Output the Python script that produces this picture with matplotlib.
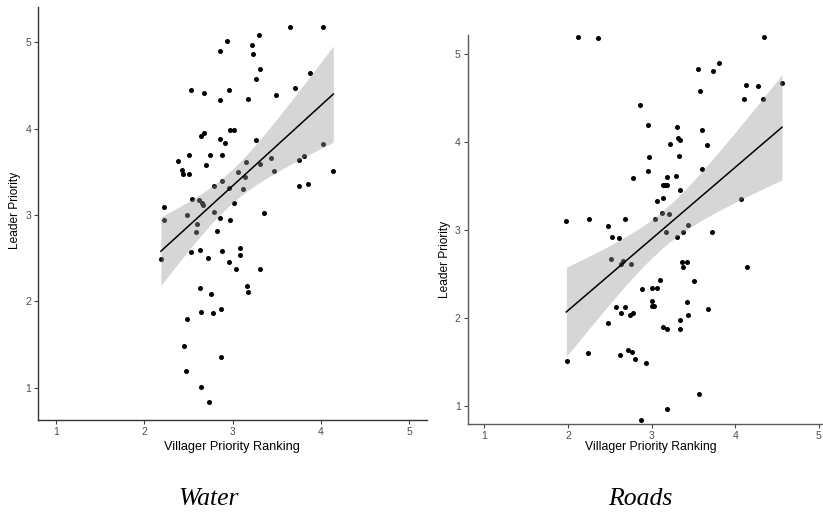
import numpy as np
import matplotlib
matplotlib.use("Agg")
import matplotlib.pyplot as plt

# ---- Data: Water panel (villager ranking, leader priority) ----
water_x = [3.65, 4.02, 3.30, 2.94, 2.855, 3.22, 3.235, 3.31, 3.27, 3.88,
           2.53, 2.68, 2.855, 2.96, 3.18, 3.49, 3.71,
           2.64, 2.68, 2.97, 3.02, 2.86, 2.91, 3.27, 4.02,
           2.38, 2.51, 2.75, 2.885, 2.43, 2.44, 2.51, 2.70,
           3.15, 3.44, 3.75, 3.81, 4.14, 3.06, 3.31, 3.47,
           2.79, 2.88, 3.145, 2.96, 3.12, 3.755, 3.85,
           2.54, 2.62, 2.65, 2.67, 3.02, 2.22, 3.36, 2.79, 2.49,
           2.855, 2.975, 2.23, 2.60, 2.59, 2.825,
           2.19, 2.53, 2.63, 2.72, 2.885, 2.96, 3.04, 3.08, 3.09, 3.31,
           2.63, 2.76, 3.16, 3.17, 2.64, 2.78, 2.87, 2.49,
           2.455, 2.87, 2.47, 2.64, 2.73]
water_y = [5.18, 5.18, 5.09, 5.01, 4.90, 4.97, 4.87, 4.69, 4.57, 4.64,
           4.45, 4.41, 4.33, 4.45, 4.34, 4.39, 4.47,
           3.92, 3.95, 3.985, 3.99, 3.88, 3.83, 3.87, 3.82,
           3.62, 3.69, 3.69, 3.69, 3.525, 3.47, 3.47, 3.58,
           3.61, 3.66, 3.64, 3.68, 3.51, 3.50, 3.59, 3.51,
           3.34, 3.39, 3.44, 3.31, 3.30, 3.34, 3.36,
           3.19, 3.17, 3.14, 3.12, 3.135, 3.09, 3.02, 3.035, 3.00,
           2.97, 2.94, 2.94, 2.90, 2.80, 2.81,
           2.49, 2.57, 2.60, 2.50, 2.58, 2.46, 2.38, 2.62, 2.54, 2.37,
           2.16, 2.09, 2.18, 2.11, 1.876, 1.865, 1.91, 1.80,
           1.48, 1.36, 1.195, 1.01, 0.84]

# ---- Data: Roads panel ----
roads_x = [2.12, 2.36, 4.35, 3.555, 3.73, 3.81, 3.58, 4.11, 4.13, 4.27, 4.33, 4.56,
           2.86, 2.955, 3.30, 3.60, 3.315, 3.34, 3.215, 3.66,
           2.97, 3.33, 2.96, 3.60, 2.775, 3.18, 3.29,
           3.135, 3.165, 3.185, 3.34, 3.14, 3.07, 4.065, 3.13, 3.21,
           1.98, 2.25, 2.68, 3.04, 2.48, 2.53, 2.61,
           3.17, 3.30, 3.37, 3.43, 3.72,
           2.515, 2.63, 2.66, 2.75, 3.36, 3.42, 3.375, 4.14,
           3.10, 3.51, 2.89, 3.00, 3.07, 3.00, 3.005, 3.025,
           2.57, 2.68, 2.63, 2.74, 2.78, 3.42, 3.44, 3.675,
           3.34, 3.14, 3.18, 3.34, 2.48,
           2.24, 2.62, 2.72, 2.76, 2.80, 2.93, 1.99,
           3.57, 3.18, 2.875]
roads_y = [5.19, 5.18, 5.19, 4.83, 4.80, 4.89, 4.57, 4.49, 4.64, 4.63, 4.48, 4.67,
           4.415, 4.19, 4.17, 4.13, 4.04, 4.02, 3.975, 3.96,
           3.83, 3.84, 3.67, 3.69, 3.59, 3.60, 3.61,
           3.51, 3.51, 3.51, 3.45, 3.365, 3.33, 3.35, 3.195, 3.18,
           3.105, 3.12, 3.125, 3.12, 3.05, 2.92, 2.91,
           2.98, 2.92, 2.98, 3.06, 2.98,
           2.67, 2.61, 2.65, 2.61, 2.635, 2.64, 2.585, 2.575,
           2.43, 2.42, 2.33, 2.345, 2.345, 2.20, 2.14, 2.14,
           2.13, 2.13, 2.06, 2.04, 2.06, 2.18, 2.035, 2.105,
           1.98, 1.905, 1.88, 1.88, 1.95,
           1.60, 1.58, 1.64, 1.62, 1.535, 1.495, 1.51,
           1.135, 0.975, 0.84]

x_ticks = [1, 2, 3, 4, 5]
y_ticks = [1, 2, 3, 4, 5]
titles = ["Water", "Roads"]
xlabel = "Villager Priority Ranking"
ylabel = "Leader Priority"

W, H = 823, 515
fig = plt.figure(figsize=(W / 100, H / 100), dpi=100)


def px_axes(x0, x1, ytop, ybot):
    return fig.add_axes([x0 / W, 1 - ybot / H, (x1 - x0) / W, (ybot - ytop) / H])


def lm_fit(x, y, n=80):
    x = np.asarray(x, float)
    y = np.asarray(y, float)
    b, a = np.polyfit(x, y, 1)
    xs = np.linspace(x.min(), x.max(), n)
    yh = a + b * xs
    resid = y - (a + b * x)
    s = np.sqrt(np.sum(resid ** 2) / (len(x) - 2))
    se = s * np.sqrt(1 / len(x) + (xs - x.mean()) ** 2 / np.sum((x - x.mean()) ** 2))
    t = 1.99
    return xs, yh, yh - t * se, yh + t * se


def panel(ax, x, y, xlim, ylim, spine_col):
    ax.scatter(x, y, s=13, color="black", linewidths=0, zorder=2)
    xs, yh, lo, hi = lm_fit(x, y)
    ax.fill_between(xs, lo, hi, color="#999999", alpha=0.4, linewidth=0, zorder=3)
    ax.plot(xs, yh, color="black", lw=1.1, zorder=4)
    ax.set_xlim(*xlim)
    ax.set_ylim(*ylim)
    ax.set_xticks(x_ticks)
    ax.set_yticks(y_ticks)
    for s in ["top", "right"]:
        ax.spines[s].set_visible(False)
    for s in ["left", "bottom"]:
        ax.spines[s].set_color(spine_col)
        ax.spines[s].set_linewidth(1.0)
    ax.tick_params(direction="out", length=3, width=0.8, color="#444444",
                   labelcolor="#4d4d4d", labelsize=7.5, pad=2)
    for lab in ax.get_xticklabels() + ax.get_yticklabels():
        lab.set_family("Liberation Sans")


# Left panel (Water)
ax1 = px_axes(38, 427, 7, 420)
panel(ax1, water_x, water_y, (0.8, 5.2), (0.626, 5.409), "#333333")
ax1.set_xlabel(xlabel, family="Liberation Sans", fontsize=9.2, va="center")
ax1.xaxis.set_label_coords(0.499, (420 - 447) / 413)
ax1.set_ylabel(ylabel, family="Liberation Sans", fontsize=8.6, va="center")
ax1.yaxis.set_label_coords((15 - 38) / 389, (420 - 210) / 413)

# Right panel (Roads)
ax2 = px_axes(467.7, 835.5, 35, 424)
panel(ax2, roads_x, roads_y, (0.8, 5.2), (0.8, 5.21), "#5a5a5a")
ax2.set_xlabel(xlabel, family="Liberation Sans", fontsize=8.8, va="center")
ax2.xaxis.set_label_coords((651 - 467.7) / 367.8, (424 - 447) / 389)
ax2.set_ylabel(ylabel, family="Liberation Sans", fontsize=8.6, va="center")
ax2.yaxis.set_label_coords((445 - 467.7) / 367.8, (424 - 259) / 389)

fig.text(209 / W, 1 - 499 / H, titles[0], family="Liberation Serif", style="italic",
         fontsize=18.5, ha="center", va="center")
fig.text(640 / W, 1 - 499 / H, titles[1], family="Liberation Serif", style="italic",
         fontsize=18.5, ha="center", va="center")

fig.savefig("out.png", dpi=100)
